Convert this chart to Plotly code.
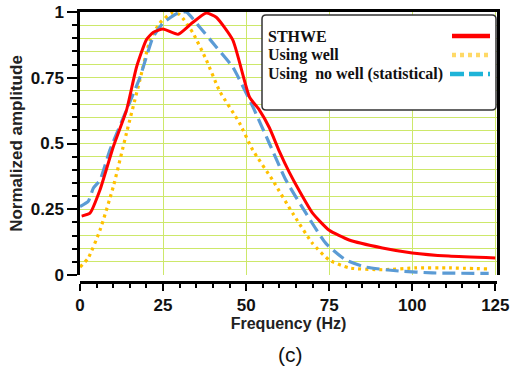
import plotly.graph_objects as go

# ---- data ----
freq_sthwe = [0.5, 3, 6, 10, 14, 17, 20, 22, 25, 29.5, 33.7, 38, 41, 46, 51, 54, 57, 60, 63, 66, 70, 75, 81, 91, 100, 111, 125]
amp_sthwe = [0.224, 0.235, 0.323, 0.487, 0.627, 0.79, 0.895, 0.922, 0.935, 0.915, 0.958, 0.996, 0.98, 0.893, 0.677, 0.627, 0.56, 0.47, 0.39, 0.32, 0.235, 0.17, 0.133, 0.103, 0.084, 0.072, 0.065]

freq_well = [0, 2.5, 6, 10, 14, 18, 21, 24, 27.7, 30, 34, 38, 42, 48, 52, 58, 64, 70, 75, 81, 91, 101, 111, 123]
amp_well = [0.03, 0.065, 0.17, 0.335, 0.54, 0.74, 0.89, 0.958, 0.996, 0.99, 0.92, 0.818, 0.70, 0.578, 0.475, 0.36, 0.235, 0.12, 0.057, 0.027, 0.02, 0.027, 0.027, 0.023]

freq_nowell = [0, 2.5, 4, 6, 9, 14, 18, 22, 25, 29.5, 32, 36, 41, 46, 52, 57, 62, 68, 74, 80, 86, 96, 106, 123]
amp_nowell = [0.26, 0.28, 0.33, 0.36, 0.475, 0.627, 0.75, 0.905, 0.958, 0.996, 1.0, 0.943, 0.867, 0.79, 0.64, 0.50, 0.36, 0.235, 0.12, 0.057, 0.03, 0.015, 0.008, 0.006]

series_names = ["STHWE", "Using well", "Using  no well (statistical)"]
x_ticks = [0, 25, 50, 75, 100, 125]
y_ticks = [0, 0.25, 0.5, 0.75, 1]
y_tick_text = ["0", "0.25", "0.5", "0.75", "1"]

# ---- figure ----
W, H = 511, 376
ML, MT = 80, 12
PW = 417
PH = 282 - 12
MR = W - ML - PW
MB = H - MT - PH


def px(x):
    return (x - ML) / PW


def py(y):
    return (MT + PH - y) / PH


fig = go.Figure()
fig.add_trace(go.Scatter(x=freq_well, y=amp_well, mode="lines", name=series_names[1],
                         line=dict(color="#ffc000", width=3.2, dash="3px,4px", shape="spline", smoothing=0.5)))
fig.add_trace(go.Scatter(x=freq_nowell, y=amp_nowell, mode="lines", name=series_names[2],
                         line=dict(color="#5b9bd5", width=3.2, dash="13px,6px", shape="spline", smoothing=0.5)))
fig.add_trace(go.Scatter(x=freq_sthwe, y=amp_sthwe, mode="lines", name=series_names[0],
                         line=dict(color="#ff0000", width=3, shape="spline", smoothing=0.5)))

grid_col = "#cde86a"
tickfont = dict(family="Liberation Sans, Arial", size=17, color="#111111", weight="bold")

fig.update_layout(
    width=W, height=H,
    margin=dict(l=ML, r=MR, t=MT, b=MB),
    paper_bgcolor="white", plot_bgcolor="white",
    showlegend=False,
    xaxis=dict(range=[0, 125.5], anchor="free", position=0, automargin=False,
               tickvals=x_ticks, ticktext=[str(v) for v in x_ticks],
               ticks="outside", ticklen=7, tickwidth=2, tickcolor="black",
               showline=True, linecolor="black", linewidth=2.5,
               showgrid=True, gridcolor=grid_col, gridwidth=1.2,
               minor=dict(dtick=5, ticks="outside", ticklen=4, tickwidth=1.5, tickcolor="black", showgrid=False),
               tickfont=tickfont, zeroline=False,
               title=dict(text="Frequency (Hz)", font=dict(family="Liberation Sans, Arial", size=16,
                                                          color="#222222", weight="bold"), standoff=2)),
    xaxis2=dict(range=[0, 125.5], overlaying="x", side="top", anchor="y", automargin=False,
                showline=True, linecolor="black", linewidth=3, showticklabels=False, ticks="",
                showgrid=False, zeroline=False),
    yaxis=dict(range=[0, 1], domain=[(282 - 275) / PH, 1], automargin=False,
               tickvals=y_ticks, ticktext=y_tick_text,
               ticks="outside", ticklen=10, tickwidth=2, tickcolor="black",
               showline=True, linecolor="black", linewidth=2.5, mirror=True,
               showgrid=True, gridcolor=grid_col, gridwidth=1.2,
               minor=dict(dtick=0.05, ticks="outside", ticklen=5, tickwidth=1.5, tickcolor="black",
                          showgrid=True, gridcolor=grid_col, gridwidth=1.2),
               tickfont=tickfont, zeroline=False,
               title=dict(text="Normalized amplitude", font=dict(family="Liberation Sans, Arial", size=17,
                                                                color="#222222", weight="bold"), standoff=4)),
)

# invisible helper trace so the top frame axis is drawn
fig.add_trace(go.Scatter(x=[x_ticks[0]], y=[y_ticks[0]], xaxis="x2", mode="markers",
                         marker=dict(opacity=0), hoverinfo="skip", showlegend=False))

# custom legend box (rounded)
x0, x1, y0, y1, r = px(262), px(496), py(110), py(15), 4
rx, ry = r / PW, r / PH
path = (f"M {x0+rx},{y0} L {x1-rx},{y0} Q {x1},{y0} {x1},{y0+ry} L {x1},{y1-ry} Q {x1},{y1} {x1-rx},{y1} "
        f"L {x0+rx},{y1} Q {x0},{y1} {x0},{y1-ry} L {x0},{y0+ry} Q {x0},{y0} {x0+rx},{y0} Z")
fig.add_shape(type="path", xref="paper", yref="paper", path=path,
              line=dict(color="#333333", width=1.5), fillcolor="white")

leg_colors = ["#ff0000", "#ffd966", "#1fb4d8"]
leg_dash = ["solid", "4px,4px", "14px,5px"]
leg_y = [36, 55, 74]
leg_x0 = [452, 452, 450]
for name, col, dsh, yy, lx in zip(series_names, leg_colors, leg_dash, leg_y, leg_x0):
    fig.add_annotation(xref="paper", yref="paper", x=px(266), y=py(yy), text=name.replace("  ", "&nbsp; "),
                       showarrow=False, xanchor="left", yanchor="middle",
                       font=dict(family="Liberation Serif, Times New Roman", size=16, color="#111111",
                                 weight="bold"))
    fig.add_shape(type="line", xref="paper", yref="paper", x0=px(lx), x1=px(490), y0=py(yy), y1=py(yy),
                  line=dict(color=col, width=4.5, dash=dsh))

# panel label
fig.add_annotation(xref="paper", yref="paper", x=px(290), y=py(354), text="(c)", showarrow=False,
                   xanchor="center", yanchor="middle",
                   font=dict(family="Liberation Sans, Arial", size=21, color="#111111"))

fig.write_html("out.html", config={"displayModeBar": False},
               post_script="document.body.style.margin='0';document.body.style.overflow='hidden';")
